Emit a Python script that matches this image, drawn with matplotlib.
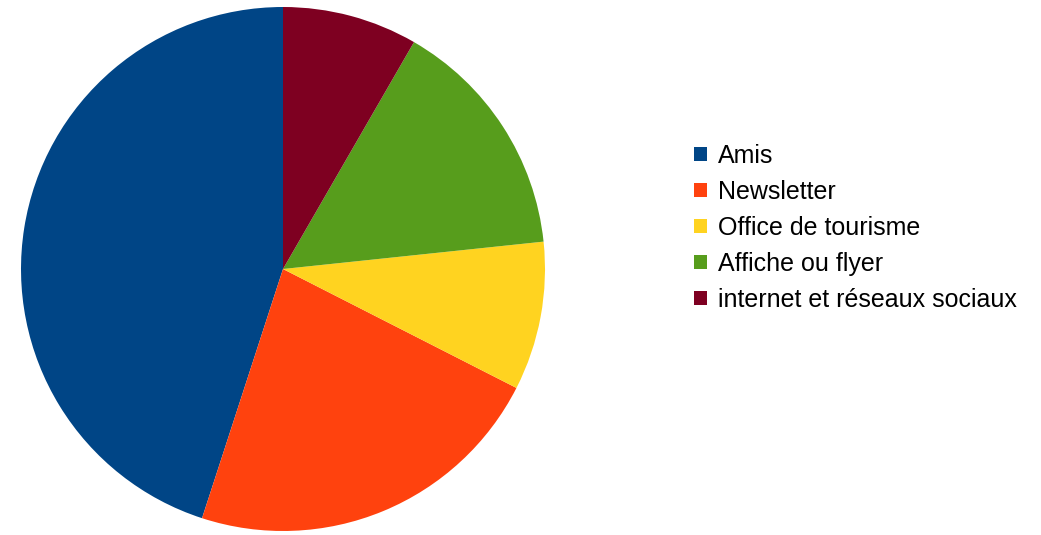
import matplotlib.pyplot as plt

# Survey: how visitors heard about the event
labels = ['Amis', 'Newsletter', 'Office de tourisme', 'Affiche ou flyer',
          'internet et réseaux sociaux']
counts = [54, 27, 11, 18, 10]
colors = ['#004586', '#ff420e', '#ffd320', '#579d1c', '#7e0021']

W, H = 1041, 535
fig = plt.figure(figsize=(W / 100, H / 100), dpi=100)

# pie centre and radius in pixels
cx, cy, r = 283, 269, 262
ax = fig.add_axes([(cx - r) / W, (H - cy - r) / H, 2 * r / W, 2 * r / H])
wedges, _ = ax.pie(counts, colors=colors, startangle=90, counterclock=True,
                   radius=1, wedgeprops=dict(linewidth=0))
ax.set_xlim(-1, 1)
ax.set_ylim(-1, 1)
ax.axis('off')

fig.legend(wedges, labels, loc='center left',
           bbox_to_anchor=(694 / W, 1 - 228 / H),
           frameon=False, borderpad=0, borderaxespad=0,
           prop={'family': 'Liberation Sans', 'size': 18},
           handlelength=0.5, handleheight=0.5, handletextpad=0.45,
           labelspacing=0.48)

plt.savefig('out.png', dpi=100)
